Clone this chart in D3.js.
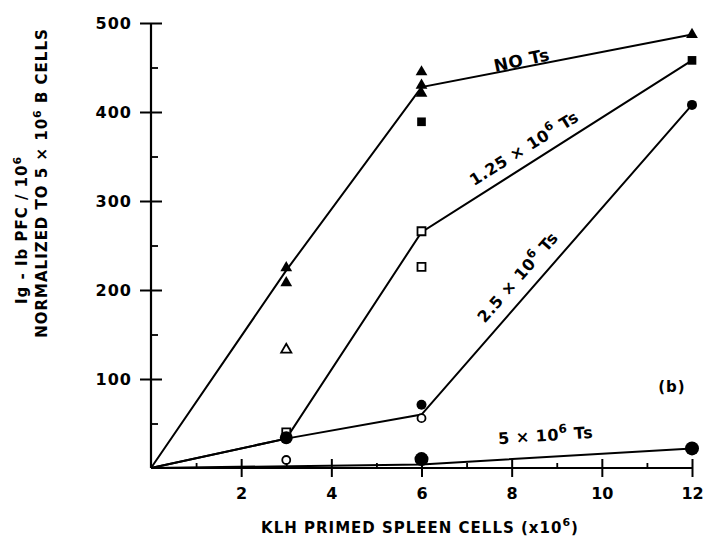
<!DOCTYPE html>
<html>
<head>
<meta charset="utf-8">
<script src="https://cdn.jsdelivr.net/npm/d3@7"></script>
<style>
  html, body { margin: 0; padding: 0; background: #fff; }
  svg { display: block; }
  text { font-family: "DejaVu Sans", sans-serif; font-weight: bold; fill: #000; }
</style>
</head>
<body>
<svg id="chart" width="705" height="544"></svg>
<script>
// ---------------- data ----------------
const xTicks = [2, 4, 6, 8, 10, 12];
const xMinorTicks = [1, 3, 5, 7, 9, 11];
const yTicks = [100, 200, 300, 400, 500];
const yMinorTicks = [50, 150, 250, 350, 450];

// connecting lines
const lineX = [0, 3, 6, 12];
const noTsY = [0, 222, 428, 487];
const ts125Y = [0, 33, 265, 458];
const ts25Y = [0, 33, 60, 408];
const ts5X = [0, 6, 12];
const ts5Y = [0, 4, 22];

// markers
const filledTriX = [3, 3, 6, 6, 6, 12];
const filledTriY = [225, 208, 445, 430, 421, 487];
const openTriX = [3];
const openTriY = [133];
const filledSqX = [6, 12];
const filledSqY = [389, 458];
const openSqX = [3, 6, 6];
const openSqY = [40, 266, 226];
const filledCircX = [3, 6, 12];
const filledCircY = [34, 71, 408];
const openCircX = [3, 6];
const openCircY = [9, 56];
const bigCircX = [6, 12];
const bigCircY = [10, 22];

// ---------------- drawing ----------------
const svg = d3.select("#chart");
const x = d3.scaleLinear().domain([0, 12]).range([151, 692]);
const y = d3.scaleLinear().domain([0, 500]).range([468, 23]);

const g = svg.append("g");

// axes lines
g.append("line").attr("x1", x(0)).attr("x2", x(0)).attr("y1", y(0)).attr("y2", y(500))
  .attr("stroke", "#000").attr("stroke-width", 2.2);
g.append("line").attr("x1", x(0)).attr("x2", x(12)).attr("y1", y(0)).attr("y2", y(0))
  .attr("stroke", "#000").attr("stroke-width", 2.2);

// y major ticks (crossing)
const yAxis = d3.axisLeft(y).tickValues(yTicks).tickSize(0).tickPadding(19).tickFormat(d3.format("d"));
const ya = g.append("g").attr("transform", `translate(${x(0)},0)`).call(yAxis);
ya.select(".domain").remove();
ya.selectAll(".tick text").style("font-size", "16px").style("font-family", "DejaVu Sans").style("font-weight", "bold").style("letter-spacing", "1px");
ya.selectAll(".tick").append("line").attr("x1", -11).attr("x2", 11).attr("stroke", "#000").attr("stroke-width", 2);
// y minor ticks
const yMinor = d3.axisRight(y).tickValues(yMinorTicks).tickSize(7).tickFormat("");
const ym = g.append("g").attr("transform", `translate(${x(0)},0)`).call(yMinor);
ym.select(".domain").remove();
ym.selectAll(".tick line").attr("stroke-width", 1.8);

// x major ticks (crossing)
const xAxis = d3.axisBottom(x).tickValues(xTicks).tickSize(0).tickPadding(20).tickFormat(d3.format("d"));
const xa = g.append("g").attr("transform", `translate(0,${y(0)})`).call(xAxis);
xa.select(".domain").remove();
xa.selectAll(".tick text").style("font-size", "16px").style("font-family", "DejaVu Sans").style("font-weight", "bold");
xa.selectAll(".tick").append("line").attr("y1", -9).attr("y2", 9).attr("stroke", "#000").attr("stroke-width", 2);
// x minor ticks
const xMinor = d3.axisTop(x).tickValues(xMinorTicks).tickSize(5).tickFormat("");
const xm = g.append("g").attr("transform", `translate(0,${y(0)})`).call(xMinor);
xm.select(".domain").remove();
xm.selectAll(".tick line").attr("stroke-width", 1.8);

// lines
const line = d3.line().x(d => x(d[0])).y(d => y(d[1]));
function drawLine(xs, ys) {
  g.append("path").datum(xs.map((v, i) => [v, ys[i]]))
    .attr("d", line).attr("fill", "none").attr("stroke", "#000").attr("stroke-width", 2);
}
drawLine(lineX, noTsY);
drawLine(lineX, ts125Y);
drawLine(lineX, ts25Y);
drawLine(ts5X, ts5Y);

// markers
function pts(xs, ys) { return xs.map((v, i) => [v, ys[i]]); }
const tri = d3.symbol().type(d3.symbolTriangle).size(60);
const sq = d3.symbol().type(d3.symbolSquare).size(75);

g.selectAll(".ftri").data(pts(filledTriX, filledTriY)).enter().append("path")
  .attr("d", tri).attr("transform", d => `translate(${x(d[0])},${y(d[1])})`).attr("fill", "#000");
g.selectAll(".otri").data(pts(openTriX, openTriY)).enter().append("path")
  .attr("d", d3.symbol().type(d3.symbolTriangle).size(45)).attr("transform", d => `translate(${x(d[0])},${y(d[1])})`)
  .attr("fill", "#fff").attr("stroke", "#000").attr("stroke-width", 1.8);
g.selectAll(".osq").data(pts(openSqX, openSqY)).enter().append("path")
  .attr("d", d3.symbol().type(d3.symbolSquare).size(64)).attr("transform", d => `translate(${x(d[0])},${y(d[1])})`)
  .attr("fill", "#fff").attr("stroke", "#000").attr("stroke-width", 1.8);
g.selectAll(".fsq").data(pts(filledSqX, filledSqY)).enter().append("path")
  .attr("d", sq).attr("transform", d => `translate(${x(d[0])},${y(d[1])})`).attr("fill", "#000");
g.selectAll(".ocirc").data(pts(openCircX, openCircY)).enter().append("circle")
  .attr("cx", d => x(d[0])).attr("cy", d => y(d[1])).attr("r", 4)
  .attr("fill", "#fff").attr("stroke", "#000").attr("stroke-width", 1.8);
g.selectAll(".fcirc").data(pts(filledCircX, filledCircY)).enter().append("circle")
  .attr("cx", d => x(d[0])).attr("cy", d => y(d[1])).attr("r", (d, i) => i === 0 ? 6.5 : 5)
  .attr("fill", "#000");
g.selectAll(".bcirc").data(pts(bigCircX, bigCircY)).enter().append("circle")
  .attr("cx", d => x(d[0])).attr("cy", d => y(d[1])).attr("r", 7)
  .attr("fill", "#000");

// series labels
function label(txt, sup, tail, cx, cy, angle, size) {
  const t = svg.append("text").attr("transform", `translate(${cx},${cy}) rotate(${angle})`)
    .attr("text-anchor", "middle").style("font-size", size + "px").style("letter-spacing", "0.5px");
  t.append("tspan").text(txt);
  if (sup) t.append("tspan").attr("dy", -7).style("font-size", (size * 0.75) + "px").text(sup);
  if (tail) t.append("tspan").attr("dy", sup ? 7 : 0).text(tail);
  return t;
}
label("NO Ts", null, null, 523, 66, -12, 17);
label("1.25 × 10", "6", " Ts", 527, 153, -32, 16);
label("2.5 × 10", "6", " Ts", 522, 281, -49, 16);
label("5 × 10", "6", " Ts", 546, 441, -4, 16);
svg.append("text").attr("x", 672).attr("y", 392).attr("text-anchor", "middle").style("font-size", "15px").style("letter-spacing", "1px").text("(b)");

// axis titles
const yt = svg.append("text").attr("transform", "translate(27,230) rotate(-90)").attr("text-anchor", "middle").style("font-size", "15px").style("letter-spacing", "1px");
yt.append("tspan").text("Ig - Ib  PFC / 10");
yt.append("tspan").attr("dy", -6).style("font-size", "11px").text("6");
const yt2 = svg.append("text").attr("transform", "translate(47,183) rotate(-90)").attr("text-anchor", "middle").style("font-size", "15px").style("letter-spacing", "1px");
yt2.append("tspan").text("NORMALIZED TO 5 × 10");
yt2.append("tspan").attr("dy", -6).style("font-size", "11px").text("6");
yt2.append("tspan").attr("dy", 6).text(" B  CELLS");

const xt = svg.append("text").attr("x", 420).attr("y", 533).attr("text-anchor", "middle").style("font-size", "15px").style("letter-spacing", "1px");
xt.append("tspan").text("KLH  PRIMED  SPLEEN  CELLS (x10");
xt.append("tspan").attr("dy", -7).style("font-size", "11px").text("6");
xt.append("tspan").attr("dy", 7).text(")");
</script>
</body>
</html>
